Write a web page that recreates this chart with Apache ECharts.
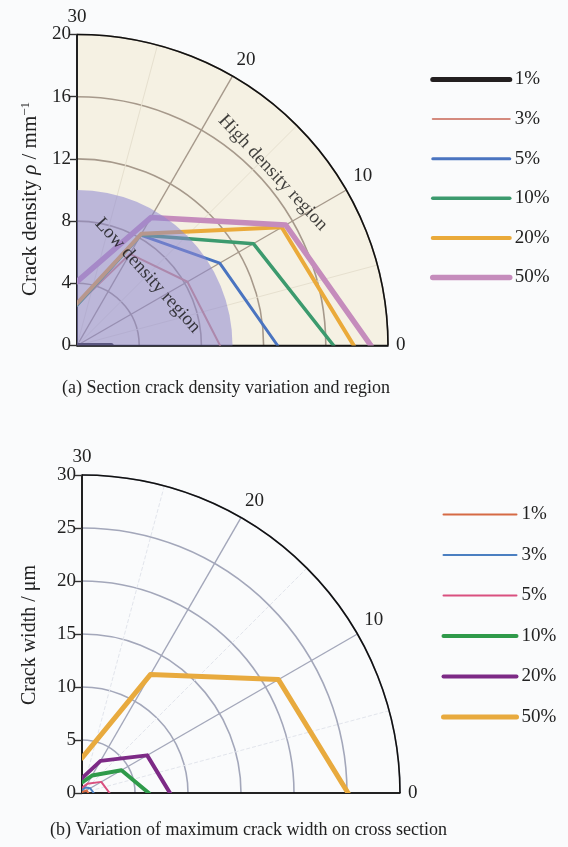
<!DOCTYPE html>
<html><head><meta charset="utf-8">
<script src="https://cdn.jsdelivr.net/npm/echarts@6/dist/echarts.min.js"></script>
<style>html,body{margin:0;padding:0;background:#fafbfc}#c{width:568px;height:847px}</style>
</head><body><div id="c"></div>
<script>
// ---- data ----
const angles = [30, 20, 10, 0];            // angular position (axis units, 30 = vertical)
const seriesNames = ['1%', '3%', '5%', '10%', '20%', '50%'];
// (a) crack density, mm^-1, at angles 30,20,10,0
const density1 = [0, 0, 0, 2.2];
const density3 = [2.6, 6.8, 8.2, 9.2];
const density5 = [2.6, 8.2, 10.6, 12.9];
const density10 = [2.6, 8.2, 13.1, 16.5];
const density20 = [2.7, 8.3, 15.2, 17.8];
const density50 = [4.1, 9.5, 15.5, 18.9];
// (b) max crack width, um, at angles 30,20,10,0
const width1 = [0.1, 0.3, 0.5, 0.6];
const width3 = [0.3, 0.6, 0.9, 1.1];
const width5 = [0.5, 1.0, 2.1, 2.6];
const width10 = [1.0, 1.9, 4.3, 6.3];
const width20 = [1.4, 3.5, 7.1, 8.3];
const width50 = [3.3, 12.9, 21.4, 25.1];
const lowDensityRadius = 10;
const densityMax = 20, densityStep = 4;
const widthMax = 30, widthStep = 5;
const angleMax = 30, angleStep = 10;

// ---- styles ----
const FONT = 'Liberation Serif';
const TXT = '#222';
const colorsA = ['#231f20', '#d48a7e', '#4a74c0', '#3c9a6e', '#eaaa3a', '#c58cbc'];
const lwA = [5, 2, 3, 3.5, 4, 5.5];
const colorsB = ['#d56a45', '#4a7fc1', '#d9507f', '#2f9a4a', '#7d2a86', '#e8aa3e'];
const lwB = [2, 2, 2, 4, 4, 5];

const densitySets = [density1, density3, density5, density10, density20, density50];
const widthSets = [width1, width3, width5, width10, width20, width50];

function pts(vals) { return vals.map((v, i) => [v, angles[i]]); }

function quarterDisc(pi, radiusValue, fill, z) {
  return {
    type: 'custom', coordinateSystem: 'polar', polarIndex: pi, silent: true, z: z,
    data: [[radiusValue, 0]],
    renderItem: function (params, api) {
      const c = api.coord([0, 0]);
      const p = api.coord([api.value(0), 0]);
      const r = Math.hypot(p[0] - c[0], p[1] - c[1]);
      return { type: 'sector', shape: { cx: c[0], cy: c[1], r0: 0, r: r, startAngle: -Math.PI / 2, endAngle: 0, clockwise: true },
        style: { fill: fill } };
    }
  };
}

const series = [];
// high-density background (whole quarter) under the grid
series.push(quarterDisc(0, densityMax, '#f5f1e3', -1));
densitySets.forEach((vals, k) => {
  series.push({
    type: 'line', name: seriesNames[k], coordinateSystem: 'polar', polarIndex: 0,
    data: pts(vals), symbol: 'none', silent: true, z: 2,
    lineStyle: { color: colorsA[k], width: lwA[k], cap: 'round', join: 'round' },
    itemStyle: { color: colorsA[k] }
  });
});
widthSets.forEach((vals, k) => {
  series.push({
    type: 'line', name: 'w' + seriesNames[k], coordinateSystem: 'polar', polarIndex: 2,
    data: pts(vals), symbol: 'none', silent: true, z: 2,
    lineStyle: { color: colorsB[k], width: lwB[k], cap: 'round', join: 'round' },
    itemStyle: { color: colorsB[k] }
  });
});
// low-density region (translucent disc drawn over the lines)
series.push(quarterDisc(0, lowDensityRadius, 'rgba(140,135,210,0.55)', 5));
// region labels
series.push({
  type: 'scatter', coordinateSystem: 'polar', polarIndex: 0, silent: true, z: 10,
  symbolSize: 0, itemStyle: { color: 'rgba(0,0,0,0)' },
  label: { show: true, position: 'inside', fontSize: 19, fontFamily: FONT, color: '#111' },
  data: [
    { value: [6.4, 14.9], label: { formatter: 'Low density region', rotate: -48 } },
    { value: [16.8, 13.8], label: { formatter: 'High density region', rotate: -47 } }
  ]
});

function dataAngleAxis(pi, gridColor, minorColor, minorType) {
  return {
    polarIndex: pi, type: 'value', min: 0, max: angleMax, interval: angleStep,
    startAngle: 0, endAngle: 90, clockwise: false,
    axisLine: { show: true, lineStyle: { color: '#111', width: 1.6 } },
    axisTick: { show: false },
    axisLabel: { show: true, fontSize: 19, fontFamily: FONT, color: TXT, margin: 8 },
    splitLine: { show: true, lineStyle: { color: ['#222', gridColor, gridColor, '#222'], width: 1.4 } },
    minorTick: { show: false, splitNumber: 2 },
    minorSplitLine: { show: true, lineStyle: { color: minorColor, width: 1, type: minorType } }
  };
}
function overlayAngleAxis(pi) {
  return { polarIndex: pi, type: 'value', min: 0, max: angleMax, startAngle: 90, endAngle: 0, show: false };
}
function dataRadiusAxis(pi, max, step, gridColor) {
  return {
    polarIndex: pi, type: 'value', min: 0, max: max, interval: step,
    axisLine: { show: true, lineStyle: { color: '#111', width: 1.6 } },
    axisTick: { show: false }, axisLabel: { show: false },
    splitLine: { show: true, lineStyle: { color: gridColor, width: 1.6 } },
    splitArea: { show: false }
  };
}
function overlayRadiusAxis(pi, max, step) {
  return {
    polarIndex: pi, type: 'value', min: 0, max: max, interval: step,
    axisLine: { show: true, lineStyle: { color: '#111', width: 1.6 } },
    axisTick: { show: true, inside: true, length: 7, lineStyle: { color: '#333', width: 1.4 } },
    axisLabel: { show: true, fontSize: 19, fontFamily: FONT, color: TXT, margin: 6 },
    splitLine: { show: false }
  };
}

const legendBase = {
  orient: 'vertical', itemHeight: 14, padding: 0,
  textStyle: { fontSize: 19, fontFamily: FONT, color: TXT },
  lineStyle: { width: 'inherit' },
  itemStyle: { color: 'rgba(0,0,0,0)', borderWidth: 0, opacity: 0 },
  selectedMode: false
};

const option = {
  backgroundColor: '#fafbfc',
  animation: false,
  title: [
    { text: '(a) Section crack density variation and region', left: 62, top: 379, padding: 0,
      textStyle: { fontSize: 18, fontWeight: 'normal', fontFamily: FONT, color: TXT } },
    { text: '(b) Variation of maximum crack width on cross section', left: 50, top: 821, padding: 0,
      textStyle: { fontSize: 18, fontWeight: 'normal', fontFamily: FONT, color: TXT } }
  ],
  legend: [
    Object.assign({}, legendBase, { left: 430, top: 70, itemWidth: 77, itemGap: 20.6, data: seriesNames.slice() }),
    Object.assign({}, legendBase, { left: 441, top: 505, itemWidth: 73, itemGap: 21.5,
      data: seriesNames.map(n => 'w' + n), formatter: n => n.slice(1) })
  ],
  polar: [
    { center: [77, 345.5], radius: 311 },
    { center: [77, 345.5], radius: 311 },
    { center: [82, 793], radius: 318 },
    { center: [82, 793], radius: 318 }
  ],
  angleAxis: [
    dataAngleAxis(0, '#a6998b', '#e6e0cf', 'solid'),
    overlayAngleAxis(1),
    dataAngleAxis(2, '#a3a7ba', '#e2e5ec', 'dashed'),
    overlayAngleAxis(3)
  ],
  radiusAxis: [
    dataRadiusAxis(0, densityMax, densityStep, '#a6998b'),
    overlayRadiusAxis(1, densityMax, densityStep),
    dataRadiusAxis(2, widthMax, widthStep, '#a3a7ba'),
    overlayRadiusAxis(3, widthMax, widthStep)
  ],
  graphic: [
    { type: 'text', x: 30, y: 199, rotation: Math.PI / 2, z: 20,
      style: { text: '{n|Crack density }{i|ρ}{n| / mm}{s|−1}', textAlign: 'center', textVerticalAlign: 'middle',
        rich: { n: { fontSize: 21, fontFamily: FONT, fill: TXT }, i: { fontSize: 21, fontFamily: FONT, fontStyle: 'italic', fill: TXT },
                s: { fontSize: 13, fontFamily: FONT, fill: TXT, verticalAlign: 'top' } } } },
    { type: 'text', x: 30, y: 635, rotation: Math.PI / 2, z: 20,
      style: { text: 'Crack width / μm', textAlign: 'center', textVerticalAlign: 'middle',
        fontSize: 20, fontFamily: FONT, fill: TXT } }
  ],
  series: series
};
const chart = echarts.init(document.getElementById('c'), null, { renderer: 'canvas' });
chart.setOption(option);
</script></body></html>
